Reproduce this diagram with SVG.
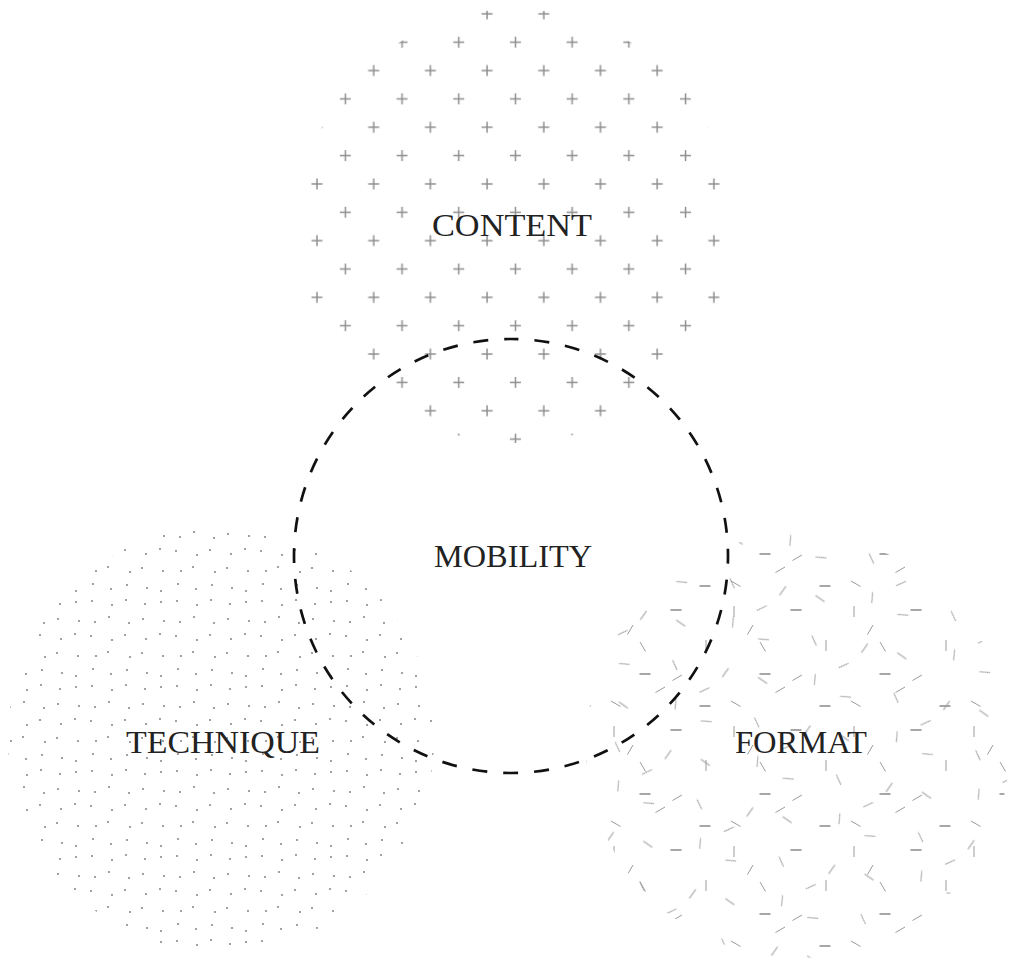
<svg xmlns="http://www.w3.org/2000/svg" width="1010" height="961" viewBox="0 0 1010 961">
<style>
.lbl{font-family:"Liberation Serif","Times New Roman",serif;font-size:31px;fill:#222;text-anchor:middle}
.pl{stroke:#8f8f8f;stroke-width:1.5;fill:none}
.dt{fill:#8a8a8a}
.ln{stroke:#9a9a9a;stroke-width:1;fill:none}
.lh{stroke:#8a8a8a;stroke-width:1.6;fill:none}
.ring{fill:none;stroke:#111;stroke-width:2.7;stroke-dasharray:15 15.99;stroke-dashoffset:7.5}
</style>
<defs>
<pattern id="plus" patternUnits="userSpaceOnUse" x="23.5" y="3.9" width="56.7" height="56.7">
<path class="pl" d="M4.5 10H15.5M10 4.5V15.5M32.85 38.35H43.85M38.35 32.85V43.85"/>
</pattern>
<pattern id="dots" patternUnits="userSpaceOnUse" width="85" height="85">
<g class="dt">
<circle cx="7" cy="6" r="1.1"/><circle cx="27" cy="10" r="1.1"/><circle cx="41" cy="5" r="1.1"/><circle cx="60" cy="9" r="1.1"/><circle cx="76" cy="7" r="1.1"/>
<circle cx="10" cy="27" r="1.1"/><circle cx="24" cy="22" r="1.1"/><circle cx="44" cy="28" r="1.1"/><circle cx="58" cy="24" r="1.1"/><circle cx="79" cy="26" r="1.1"/>
<circle cx="6" cy="41" r="1.1"/><circle cx="27" cy="45" r="1.1"/><circle cx="40" cy="40" r="1.1"/><circle cx="61" cy="44" r="1.1"/><circle cx="75" cy="39" r="1.1"/>
<circle cx="11" cy="61" r="1.1"/><circle cx="23" cy="57" r="1.1"/><circle cx="45" cy="62" r="1.1"/><circle cx="57" cy="58" r="1.1"/><circle cx="78" cy="61" r="1.1"/>
<circle cx="8" cy="74" r="1.1"/><circle cx="26" cy="79" r="1.1"/><circle cx="42" cy="75" r="1.1"/><circle cx="62" cy="78" r="1.1"/><circle cx="76" cy="81" r="1.1"/>
</g>
</pattern>
<pattern id="dashA" patternUnits="userSpaceOnUse" width="120" height="120">
<path class="ln" d="M14 6V17M40 42L45.5 51.5M106 40V51M82 75L72.5 80.5M11 101L20.5 106.5M33 25L27.5 34.5M65 87L55.5 92.5"/>
<path class="lh" d="M70.5 10H81.5M39.5 74H50.5M99.5 106H110.5"/>
</pattern>
<pattern id="dashB" patternUnits="userSpaceOnUse" width="100" height="100" patternTransform="rotate(35)">
<path class="ln" d="M9.5 20H20.5M80 29.5V40.5M29.5 55L39 60.5M70 66L75.5 56.5M54.5 84.5L60 94M87.5 88.5L97 83"/>
</pattern>
</defs>
<g id="node-content">
<circle cx="515" cy="226" r="217" fill="url(#plus)"/>
<text class="lbl" x="512" y="236" textLength="160" lengthAdjust="spacingAndGlyphs">CONTENT</text>
</g>
<g id="node-technique">
<circle cx="221" cy="739" r="213" fill="url(#dots)"/>
<text class="lbl" x="223" y="753" textLength="194" lengthAdjust="spacingAndGlyphs">TECHNIQUE</text>
</g>
<g id="node-format">
<circle cx="798" cy="746" r="212" fill="url(#dashA)"/>
<circle cx="798" cy="746" r="212" fill="url(#dashB)"/>
<text class="lbl" x="801" y="753" textLength="132" lengthAdjust="spacingAndGlyphs">FORMAT</text>
</g>
<g id="node-mobility">
<path class="ring" d="M511 339A217 217 0 1 1 511 773A217 217 0 1 1 511 339Z"/>
<text class="lbl" x="513" y="567" textLength="158" lengthAdjust="spacingAndGlyphs">MOBILITY</text>
</g>
<g id="connectors"></g>
</svg>
